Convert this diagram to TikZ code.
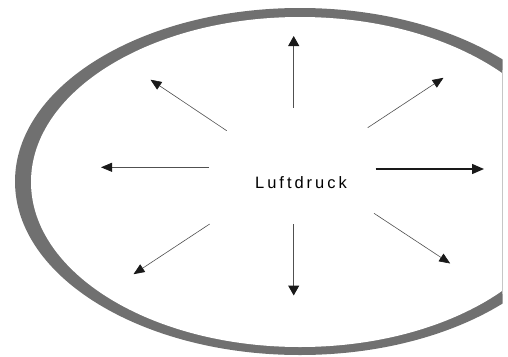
\documentclass[tikz,border=0pt]{standalone}
\usepackage{fontspec}
\setmainfont{Liberation Sans}
\usetikzlibrary{arrows.meta}
\definecolor{rimgray}{RGB}{112,112,112}
\definecolor{arrowgray}{RGB}{80,80,80}

\begin{document}
\begin{tikzpicture}[x=1pt, y=-1pt]
        \useasboundingbox (0,0) rectangle (508,356);
        % rim of the ellipse
        \begin{scope}
            \clip (0,0) rectangle (502.5,356);
            \fill[rimgray] (300,181.5) ellipse [x radius=285, y radius=173.5];
            \fill[white] (300,182) ellipse [x radius=269, y radius=165];
        \end{scope}
        \draw[gray!45, line width=0.8pt] (502,70) -- (502,294);
        \node (druck) at (301,182.5) {\fontsize{16.5}{19}\selectfont\addfontfeature{LetterSpace=18}Luftdruck};
        \coordinate (n0) at (293.7,107.7);  \coordinate (n1) at (293.7,36);
        \coordinate (s0) at (293.7,224);    \coordinate (s1) at (293.7,295.5);
        \coordinate (w0) at (209,167.3);    \coordinate (w1) at (101,167.3);
        \coordinate (e0) at (375.7,169);    \coordinate (e1) at (484,169);
        \coordinate (nw0) at (226.7,130.7); \coordinate (nw1) at (150.5,79.7);
        \coordinate (ne0) at (367.7,127.7); \coordinate (ne1) at (443.5,77.8);
        \coordinate (sw0) at (209.7,224);   \coordinate (sw1) at (133.5,274.2);
        \coordinate (se0) at (374,213.3);   \coordinate (se1) at (450.2,263.5);
        \begin{scope}[every path/.style={-{Triangle[length=11pt, width=9pt, color=black!90]}, arrowgray, line width=0.6pt}]
            \draw (nw0) -- (nw1);
            \draw (ne0) -- (ne1);
            \draw (sw0) -- (sw1);
            \draw (se0) -- (se1);
            \draw[line width=0.8pt] (w0) -- (w1);
        \end{scope}
        \begin{scope}[every path/.style={-{Triangle[length=10pt, width=11pt, color=black!90]}, line width=1pt}]
            \draw[arrowgray] (n0) -- (n1);
            \draw[arrowgray] (s0) -- (s1);
            \draw[black!90, line width=1.5pt, -{Triangle[length=12pt, width=10pt]}] (e0) -- (e1);
        \end{scope}
    \end{tikzpicture}
\end{document}
